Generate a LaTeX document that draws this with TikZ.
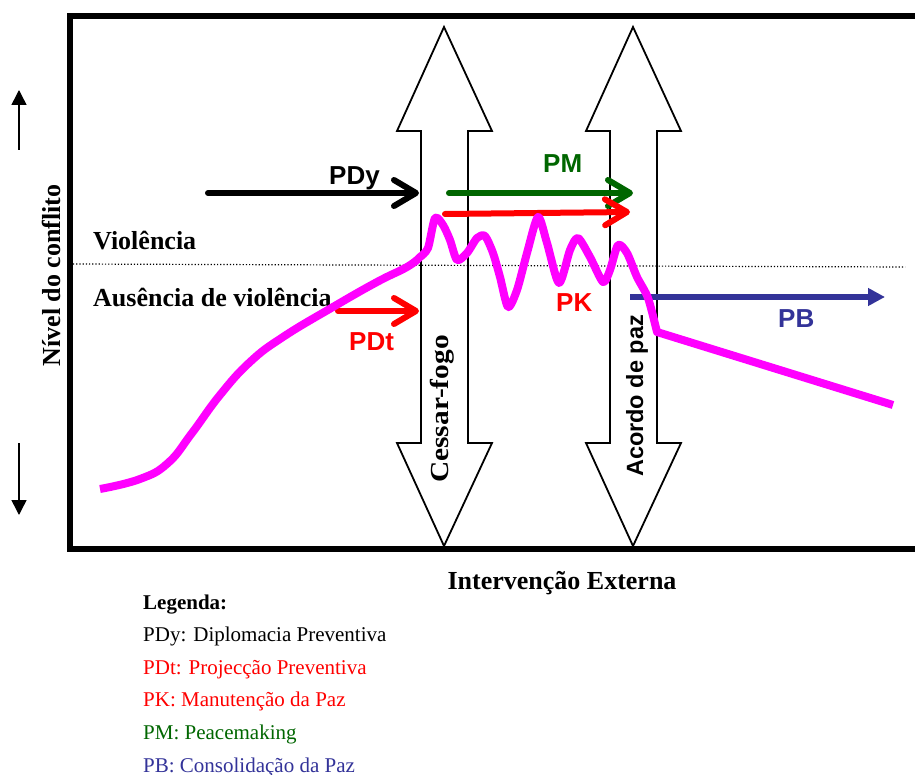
\documentclass[tikz,border=0pt]{standalone}
\usepackage{fontspec}
\usepackage{graphicx}
\setmainfont{Liberation Serif}
\newfontfamily\arialf{Liberation Sans}
\usetikzlibrary{arrows.meta}
\definecolor{pgreen}{HTML}{006600}
\definecolor{pblue}{HTML}{333399}
\definecolor{pred}{HTML}{FF0000}
\definecolor{pmag}{HTML}{FF00FF}
\begin{document}
\begin{tikzpicture}[x=1pt,y=-1pt,
  serifbig/.style={font=\fontsize{26}{30}\selectfont\bfseries, inner sep=0pt},
  sanslabel/.style={font=\arialf\fontsize{26}{30}\selectfont\bfseries, inner sep=0pt, anchor=base west},
  legendtext/.style={font=\fontsize{21}{25}\selectfont, inner sep=0pt, anchor=base west},
  chev/.style={line width=6pt, line cap=round, -{Straight Barb[length=22pt,width=26pt,round]}},
  blockarrow/.style={draw=black, line width=1.8pt, fill=white, line join=miter},
  framestyle/.style={line width=6.5pt, line join=miter},
  axisarrow/.style={line width=1.5pt, -{Triangle[length=15pt,width=15pt]}},
  curve/.style={pmag, line width=8pt, line join=round}
]
\useasboundingbox (0,0) rectangle (915,775);
\fill[white] (0,0) rectangle (915,775);

% frame
\draw[framestyle] (915,16) -- (70,16) -- (70,549) -- (915,549);

% axis arrows
\coordinate (upA) at (19,150); \coordinate (upB) at (19,90);
\coordinate (dnA) at (19,443); \coordinate (dnB) at (19,515);
\draw[axisarrow] (upA) -- (upB);
\draw[axisarrow] (dnA) -- (dnB);

% block double arrows
\draw[blockarrow] (444,27) -- (492,131) -- (468,131) -- (468,443) -- (492,443) -- (444,546)
  -- (397,443) -- (421,443) -- (421,131) -- (397,131) -- cycle;
\draw[blockarrow] (633,27) -- (681,131) -- (657,131) -- (657,443) -- (681,443) -- (633,546)
  -- (586,443) -- (610,443) -- (610,131) -- (586,131) -- cycle;

% dotted threshold
\coordinate (dotA) at (73,264); \coordinate (dotB) at (905,267);
\draw[line width=1.2pt, dash pattern=on 1.2pt off 2pt] (dotA) -- (dotB);

% texts
\node[serifbig, rotate=90, anchor=base] (nivel) at (60,275.5) {Nível do conflito};
\node[serifbig, anchor=base west] (viol) at (93,250) {Violência};
\node[serifbig, anchor=base west] (ausen) at (93,307) {Ausência de violência};
\node[serifbig, anchor=base] (interv) at (562,589) {Intervenção Externa};
\node[serifbig, rotate=90, anchor=base] (cessar) at (448,409) {\scalebox{1.13}[1]{Cessar-fogo}};
\node[font=\arialf\fontsize{23.5}{28}\selectfont\bfseries, inner sep=0pt, rotate=90, anchor=base] (acordo) at (643,396) {Acordo de paz};

% labels
\node[sanslabel] (pdy) at (329,185) {PDy};
\node[sanslabel, text=pgreen] (pm) at (543,173) {PM};
\node[sanslabel, text=pred] (pdt) at (349,351) {PDt};
\node[sanslabel, text=pred] (pk) at (556,312) {PK};
\node[sanslabel, text=pblue] (pb) at (778,327) {PB};

% activity arrows
\coordinate (pdyA) at (208,193); \coordinate (pdyB) at (419,193);
\coordinate (pmA) at (449,193); \coordinate (pmB) at (633,193);
\coordinate (pkA) at (445,214); \coordinate (pkB) at (630,212);
\coordinate (pdtA) at (338,311); \coordinate (pdtB) at (419,311);
\coordinate (pbA) at (630,297); \coordinate (pbB) at (885,297);
\draw[chev, black] (pdyA) -- (pdyB);
\draw[chev, pgreen] (pmA) -- (pmB);
\draw[chev, pred] (pkA) -- (pkB);
\draw[chev, pred] (pdtA) -- (pdtB);
\draw[pblue, line width=6pt, -{Triangle[length=17pt,width=17pt]}] (pbA) -- (pbB);

% conflict curve
\draw[curve] plot[smooth, tension=0.75] coordinates {(100,489) (140,479) (168,463) (192,433) (220,395) (250,362) (283,337) (333,307) (377,282) (407,267) (420,257)}
  -- plot[smooth, tension=0.45] coordinates {(420,257) (428,248) (435,218) (443,225) (450,240) (457,260) (467,253) (477,238) (485,236) (493,253) (500,277) (508,307) (517,290) (527,253) (538,217) (547,243) (559,283) (570,250) (578,238) (590,257) (603,282) (610,270) (618,245) (627,253) (637,277) (648,298) (657,332)} -- (893,405);

% legend
\node[font=\fontsize{21}{25}\selectfont\bfseries, inner sep=0pt, anchor=base west] (leg) at (143,609) {Legenda:};
\node[legendtext] (l1) at (143,641) {PDy: Diplomacia Preventiva};
\node[legendtext, text=pred] (l2) at (143,674) {PDt: Projecção Preventiva};
\node[legendtext, text=pred] (l3) at (143,706) {PK: Manutenção da Paz};
\node[legendtext, text=pgreen] (l4) at (143,739) {PM: Peacemaking};
\node[legendtext, text=pblue] (l5) at (143,772) {PB: Consolidação da Paz};
\end{tikzpicture}
\end{document}
